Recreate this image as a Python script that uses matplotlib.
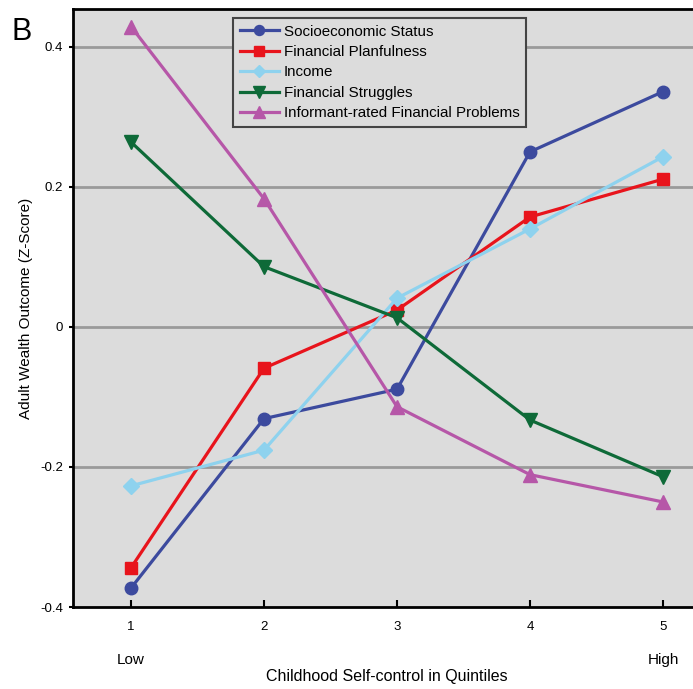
import matplotlib
matplotlib.use("Agg")
import matplotlib.pyplot as plt

plt.rcParams['font.family'] = ['Liberation Sans', 'DejaVu Sans']

# quintiles of childhood self-control
quintiles = [1, 2, 3, 4, 5]
ses = [-0.373, -0.131, -0.089, 0.250, 0.336]
planfulness = [-0.344, -0.059, 0.024, 0.157, 0.211]
income = [-0.227, -0.176, 0.041, 0.140, 0.243]
struggles = [0.264, 0.086, 0.013, -0.133, -0.214]
informant = [0.429, 0.183, -0.114, -0.211, -0.250]

y_ticks = [-0.4, -0.2, 0, 0.2, 0.4]
y_tick_labels = ['-0.4', '-0.2', '0', '0.2', '0.4']

fig = plt.figure(figsize=(6.93, 6.89), dpi=100)
ax = fig.add_axes([73 / 693, 82 / 689, 627 / 693, 598 / 689])
ax.set_facecolor('#dcdcdc')

for y in [-0.2, 0, 0.2, 0.4]:
    ax.axhline(y, color='#9a9a9a', lw=2, zorder=1)

ax.plot(quintiles, ses, color='#3c4a9e', marker='o', ms=9, lw=2.3,
        label='Socioeconomic Status', zorder=3)
ax.plot(quintiles, planfulness, color='#e8141c', marker='s', ms=9, lw=2.3,
        label='Financial Planfulness', zorder=3)
ax.plot(quintiles, income, color='#8ed2ee', marker='D', ms=8, lw=2.3,
        label='Income', zorder=3)
ax.plot(quintiles, struggles, color='#0e6a38', marker='v', ms=10, lw=2.3,
        label='Financial Struggles', zorder=3)
ax.plot(quintiles, informant, color='#b657a8', marker='^', ms=10, lw=2.3,
        label='Informant-rated Financial Problems', zorder=3)

ax.set_xlim(0.564, 5.278)
ax.set_ylim(-0.4, 0.454)
ax.set_xticks(quintiles)
ax.set_yticks(y_ticks)
ax.set_yticklabels(y_tick_labels)
ax.tick_params(axis='x', direction='in', length=5, width=1.5, labelsize=9.5, pad=10)
ax.tick_params(axis='y', direction='out', length=3, width=1.5, labelsize=9.5, pad=4)

for side in ['top', 'bottom', 'left']:
    ax.spines[side].set_linewidth(2)
ax.spines['right'].set_visible(False)

ax.text(1, -0.466, 'Low', ha='center', va='top', fontsize=11, clip_on=False)
ax.text(5, -0.466, 'High', ha='center', va='top', fontsize=11, clip_on=False)
ax.set_xlabel('Childhood Self-control in Quintiles', fontsize=11.5, labelpad=26)
ax.set_ylabel('Adult Wealth Outcome (Z-Score)', fontsize=11, labelpad=5)

leg = ax.legend(loc='upper left', bbox_to_anchor=(0.255, 0.985), borderaxespad=0,
                fontsize=10.9, handlelength=2.6, handletextpad=0.3, labelspacing=0.42,
                borderpad=0.45, fancybox=False, framealpha=1, markerscale=0.8)
leg.get_frame().set_facecolor('#dcdcdc')
leg.get_frame().set_edgecolor('#444444')
leg.get_frame().set_linewidth(1.5)

fig.text(12 / 693, 1 - 40 / 689, 'B', fontsize=22)

fig.savefig('out.png', dpi=100)
